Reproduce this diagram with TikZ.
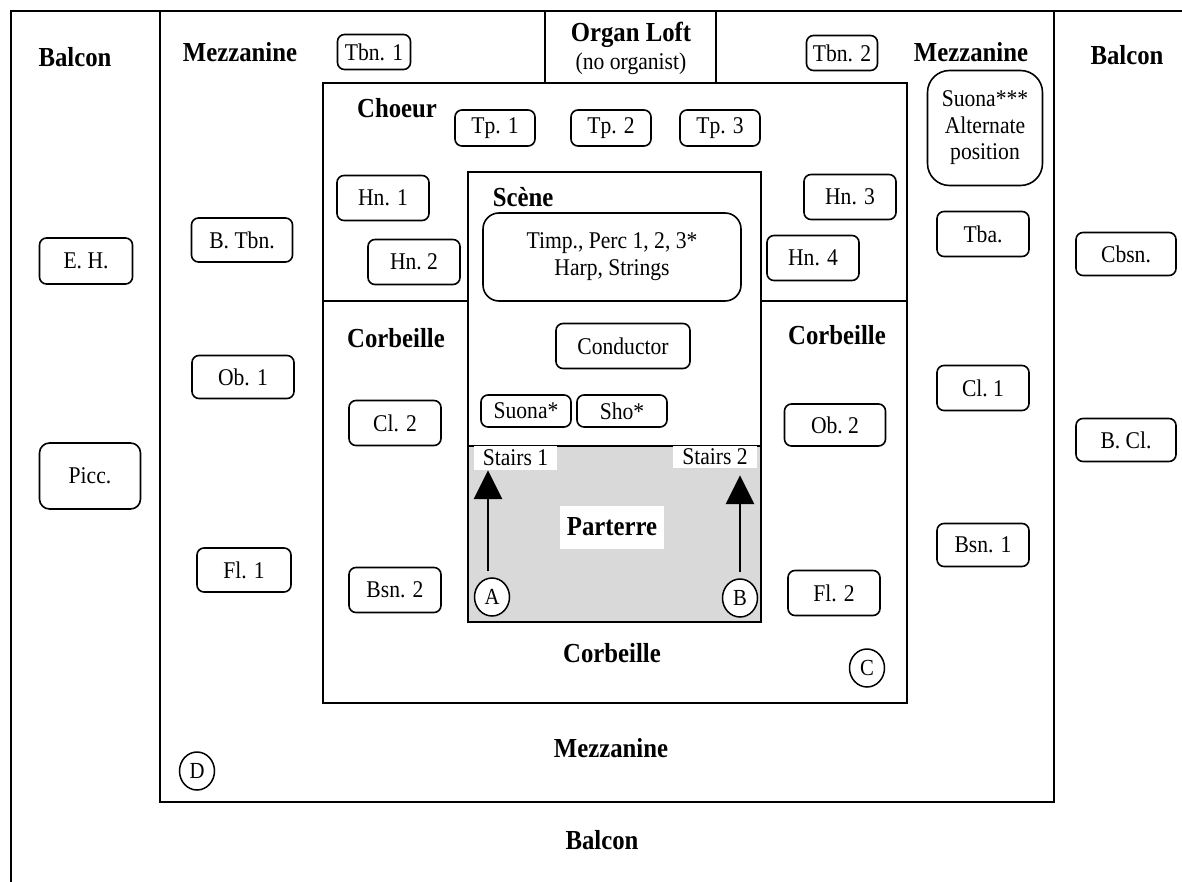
\documentclass[tikz,border=0pt]{standalone}
\usepackage{fontspec}
\setmainfont{Liberation Serif}[FakeStretch=0.9]
\usetikzlibrary{arrows.meta,shapes.geometric}
\tikzset{
  frame/.style={line width=1.8pt},
  inst/.style={draw, line width=1.6pt, rounded corners=7pt, inner sep=0pt,
    font=\fontsize{24}{26}\selectfont, align=center},
  lab/.style={inner sep=0pt, font=\fontsize{27.5}{30}\selectfont\bfseries},
  txt/.style={inner sep=0pt, font=\fontsize{24}{26}\selectfont},
  letter/.style={draw, ellipse, line width=1.5pt, inner sep=0pt,
    minimum width=35, minimum height=38, font=\fontsize{23}{24}\selectfont},
  whitebox/.style={fill=white, inner sep=0pt},
  stairarrow/.style={line width=2.8pt, -{Triangle[width=28pt,length=29pt]}}
}
\begin{document}
\begin{tikzpicture}[x=1pt,y=-1pt]
\useasboundingbox (0,0) rectangle (1182,882);
\fill[white] (0,0) rectangle (1182,882);
% parterre grey
\fill[black!15] (468,446) rectangle (761,622);
% frames
\draw[frame] (11,882) -- (11,11) -- (1182,11);
\draw[frame] (160,11) rectangle (1054,802);
\draw[frame] (545,11) rectangle (716,83);
\draw[frame] (323,83) rectangle (907,703);
\draw[frame] (323,301) -- (468,301);
\draw[frame] (761,301) -- (907,301);
\draw[frame] (468,172) rectangle (761,622);
\draw[frame] (468,446) -- (761,446);

% region labels
\node[lab] (balconL) at (75,57) {Balcon};
\node[lab] (mezzL) at (240,52) {Mezzanine};
\node[lab] (organ) at (631,35) {Organ Loft};
\node[txt] (noorg) at (631,64) {(no organist)};
\node[lab] (mezzR) at (971,52) {Mezzanine};
\node[lab] (balconR) at (1127,55) {Balcon};
\node[lab] (choeur) at (397,108) {Choeur};
\node[lab] (scene) at (523,197) {Scène};
\node[lab] (corbL) at (396,338) {Corbeille};
\node[lab] (corbR) at (837,335) {Corbeille};
\node[lab] (corbB) at (612,653) {Corbeille};
\node[lab] (mezzB) at (611,748) {Mezzanine};
\node[lab] (balconB) at (602,840) {Balcon};

% instruments
\node[inst, minimum width=73, minimum height=35] (tbn1) at (374,52) {Tbn. 1};
\node[inst, minimum width=71, minimum height=35] (tbn2) at (842,53) {Tbn. 2};
\node[inst, minimum width=80, minimum height=36] (tp1) at (495,128) {Tp. 1};
\node[inst, minimum width=80, minimum height=36] (tp2) at (611,128) {Tp. 2};
\node[inst, minimum width=80, minimum height=36] (tp3) at (720,128) {Tp. 3};
\node[inst, rounded corners=22pt, minimum width=115, minimum height=115,
  font=\fontsize{24}{26.5}\selectfont] (suonaalt) at (985,128) {Suona***\\Alternate\\position};
\node[inst, minimum width=92, minimum height=45] (hn1) at (383,198) {Hn. 1};
\node[inst, minimum width=92, minimum height=45] (hn2) at (414,262) {Hn.\ 2};
\node[inst, minimum width=92, minimum height=45] (hn3) at (850,197) {Hn. 3};
\node[inst, minimum width=92, minimum height=45] (hn4) at (813,258) {Hn. 4};
\node[inst, rounded corners=16pt, minimum width=258, minimum height=88,
  font=\fontsize{24}{27}\selectfont] (timp) at (612,257) {Timp., Perc 1, 2, 3*\\Harp, Strings};
\node[inst, minimum width=93, minimum height=46] (eh) at (86,261) {E. H.};
\node[inst, minimum width=101, minimum height=44] (btbn) at (242,240) {B. Tbn.};
\node[inst, minimum width=92, minimum height=45] (tba) at (983,234) {Tba.};
\node[inst, minimum width=100, minimum height=43] (cbsn) at (1126,254) {Cbsn.};
\node[inst, minimum width=134, minimum height=45] (cond) at (623,346) {Conductor};
\node[inst, minimum width=102, minimum height=43] (ob1) at (243,377) {Ob. 1};
\node[inst, minimum width=92, minimum height=45] (cl1) at (983,388) {Cl.\ 1};
\node[inst, minimum width=92, minimum height=45] (cl2) at (395,423) {Cl. 2};
\node[inst, minimum width=90, minimum height=32] (suona) at (526,411) {Suona*};
\node[inst, minimum width=90, minimum height=32] (sho) at (622,411) {Sho*};
\node[inst, minimum width=101, minimum height=42] (ob2) at (835,425) {Ob.\ 2};
\node[inst, rounded corners=10pt, minimum width=101, minimum height=66] (picc) at (90,476) {Picc.};
\node[inst, minimum width=100, minimum height=43] (bcl) at (1126,440) {B. Cl.};
\node[inst, minimum width=94, minimum height=44] (fl1) at (244,570) {Fl. 1};
\node[inst, minimum width=92, minimum height=43] (bsn1) at (983,545) {Bsn. 1};
\node[inst, minimum width=92, minimum height=45] (bsn2) at (395,590) {Bsn. 2};
\node[inst, minimum width=92, minimum height=45] (fl2) at (834,593) {Fl. 2};

% stairs and parterre
\node[whitebox, txt, minimum width=83, minimum height=24] (s1) at (515.5,458) {Stairs 1};
\node[whitebox, txt, minimum width=84, minimum height=22] (s2) at (715,457) {Stairs 2};
\node[whitebox, lab, minimum width=104, minimum height=43] (parterre) at (612,527) {Parterre};

% circled letters
\node[letter, fill=white] (A) at (492,597) {A};
\node[letter, fill=white] (B) at (740,598) {B};
\node[letter] (C) at (867,668) {C};
\node[letter] (D) at (197,771) {D};

% arrows
\draw[stairarrow] ([xshift=-4pt,yshift=6pt]A.north) -- ([xshift=-4pt]A.north |- s1.south);
\draw[stairarrow] ([yshift=6pt]B.north) -- ([yshift=-7pt]B.north |- s2.south);
\end{tikzpicture}
\end{document}
